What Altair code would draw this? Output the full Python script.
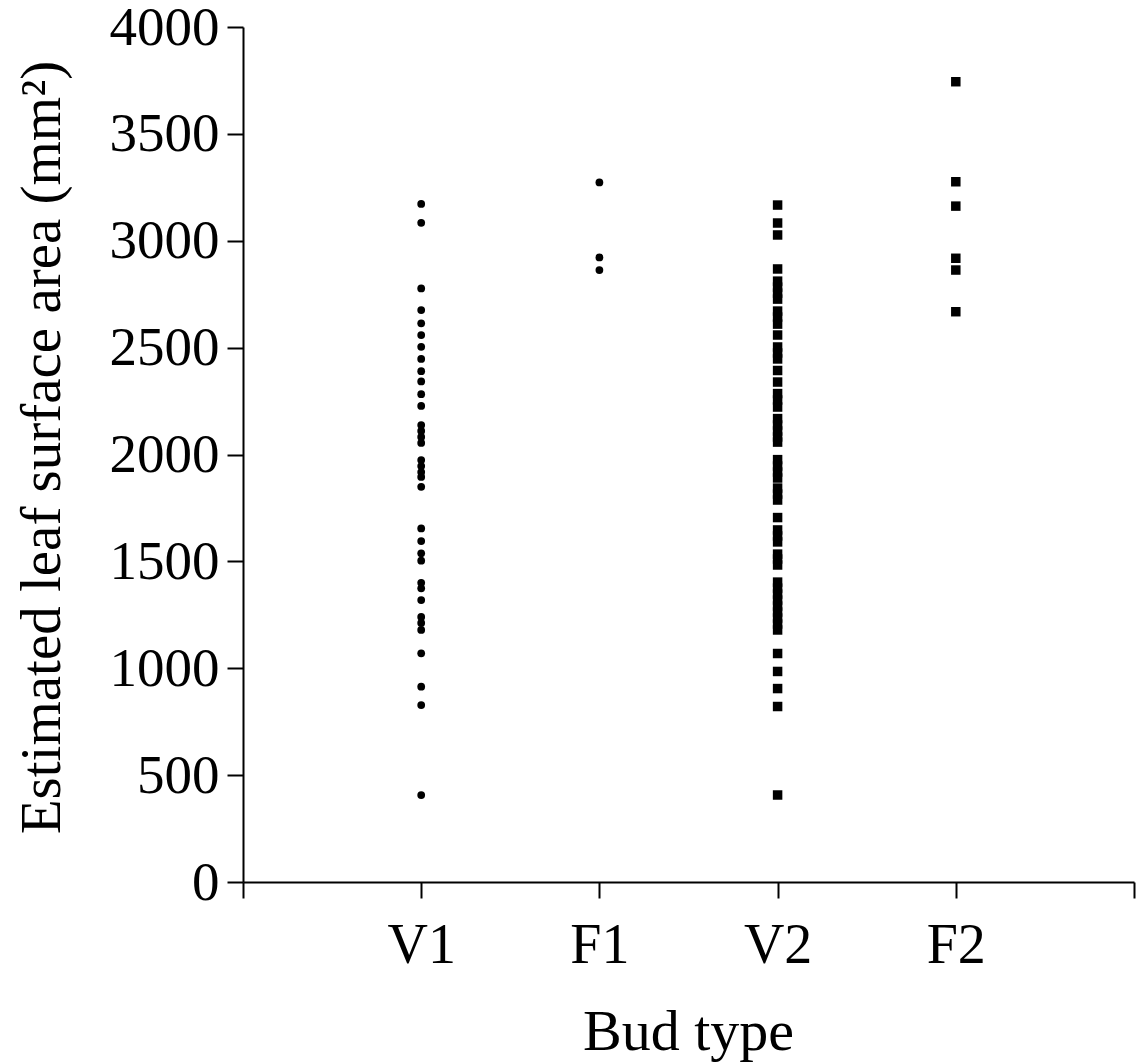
import altair as alt
import pandas as pd

categories = ["V1", "F1", "V2", "F2"]

v1_values = [3172, 3084, 2777, 2676, 2614, 2559, 2504, 2447, 2390, 2342, 2282, 2227,
             2138, 2110, 2082, 2054, 1974, 1946, 1918, 1895, 1849, 1654, 1595, 1538,
             1503, 1400, 1374, 1319, 1240, 1212, 1179, 1070, 914, 828, 407]
f1_values = [3273, 2922, 2863]
v2_values = [3167, 3083, 3027, 2868, 2811, 2783, 2755, 2727, 2671, 2643, 2610, 2559,
             2503, 2475, 2447, 2393, 2339, 2285, 2255, 2222, 2168, 2138, 2110, 2082,
             2058, 1976, 1946, 1918, 1890, 1843, 1815, 1787, 1705, 1647, 1619, 1591,
             1534, 1511, 1483, 1403, 1375, 1347, 1319, 1291, 1263, 1235, 1207, 1179,
             1069, 985, 905, 821, 407]
f2_values = [3744, 3276, 3162, 2918, 2863, 2668]

y_ticks = [0, 500, 1000, 1500, 2000, 2500, 3000, 3500, 4000]

series = {"V1": v1_values, "F1": f1_values, "V2": v2_values, "F2": f2_values}
rows = []
for i, cat in enumerate(categories):
    for v in series[cat]:
        rows.append({"cat": cat, "pos": i + 1, "value": v})
df = pd.DataFrame(rows)

FONT = "Liberation Serif"

label_expr = ("datum.value == 1 ? 'V1' : datum.value == 2 ? 'F1' : "
              "datum.value == 3 ? 'V2' : datum.value == 4 ? 'F2' : ''")

x_enc = alt.X(
    "pos:Q",
    scale=alt.Scale(domain=[0, 5], nice=False, zero=False),
    axis=alt.Axis(
        values=[0, 1, 2, 3, 4, 5], labelExpr=label_expr, grid=False,
        title="Bud type", titleFont=FONT, titleFontSize=58, titleFontWeight="normal",
        titleColor="black", titleX=445, titleY=167, titleBaseline="alphabetic",
        titleAnchor="middle", titleAlign="center",
        labelFont=FONT, labelFontSize=56, labelColor="black", labelPadding=20,
        labelFlush=False, labelOverlap=False,
        tickSize=16, tickWidth=2, tickColor="black",
        domainColor="black", domainWidth=2,
    ),
)
y_enc = alt.Y(
    "value:Q",
    scale=alt.Scale(domain=[0, 4000], nice=False),
    axis=alt.Axis(
        values=y_ticks, grid=False, format="d",
        title="Estimated leaf surface area (mm²)", titleFont=FONT, titleFontSize=57,
        titleFontWeight="normal", titleColor="black", titleAngle=270,
        titleX=-184, titleY=420, titleBaseline="alphabetic", titleAlign="center",
        labelFont=FONT, labelFontSize=55, labelColor="black", labelPadding=8,
        labelFlush=False, labelOverlap=False,
        tickSize=16, tickWidth=2, tickColor="black",
        domainColor="black", domainWidth=2,
    ),
)

base = alt.Chart(df).encode(x=x_enc, y=y_enc)

dots = base.transform_filter(
    alt.FieldOneOfPredicate(field="cat", oneOf=["V1", "F1"])
).mark_point(shape="circle", filled=True, color="black", size=60, opacity=1)

squares = base.transform_filter(
    alt.FieldOneOfPredicate(field="cat", oneOf=["V2", "F2"])
).mark_point(shape="square", filled=True, color="black", size=90, opacity=1)

chart = alt.layer(dots, squares).properties(
    width=891, height=855,
    autosize=alt.AutoSizeParams(type="none"),
    padding={"left": 243, "top": 27, "right": 5, "bottom": 181},
    background="white",
).configure_view(stroke=None)

chart.save("out.html", embed_options={"renderer": "svg", "actions": False})
